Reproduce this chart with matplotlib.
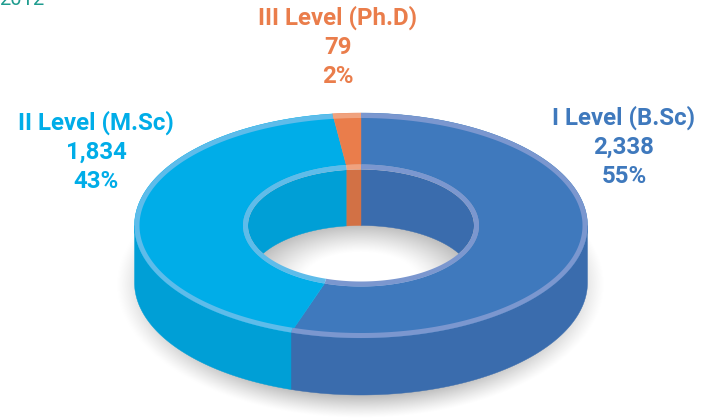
import numpy as np
import matplotlib
matplotlib.use("Agg")
import matplotlib.pyplot as plt
from matplotlib.patches import Polygon, Ellipse

levels = ['I Level (B.Sc)', 'II Level (M.Sc)', 'III Level (Ph.D)']
counts = [2338, 1834, 79]
shares = [55, 43, 2]

top_colors = ['#3f79bd', '#00ade8', '#ea7d4b']
side_colors = ['#3a6cad', '#009fd6', '#d27145']
rim_colors = ['#7b97cf', '#5ebcea', '#f0a27e']
text_colors = ['#3f79bd', '#00ade8', '#ea7d4b']
label_pos = [(624, 147), (96, 152), (338, 47)]

plt.rcParams['font.family'] = ['Roboto', 'DejaVu Sans']

fig = plt.figure(figsize=(7.02, 4.19), dpi=100)
ax = fig.add_axes([0, 0, 1, 1])
ax.set_xlim(0, 702)
ax.set_ylim(419, 0)
ax.axis('off')

cx, cy = 361, 225.5
a_out, b_out = 226.5, 112.5
a_hole, b_hole = 118, 61
rim = 5
depth = 57


def arc(a, b, t0, t1, dy=0):
    # clockwise from 12 o'clock, y goes down on this axis
    t = np.radians(np.linspace(t0, t1, 200))
    return np.column_stack([cx + a * np.sin(t), cy + dy - b * np.cos(t)])


def ring(a0, b0, a1, b1, t0, t1):
    return np.vstack([arc(a0, b0, t0, t1), arc(a1, b1, t1, t0)])


# soft shadow below the disk, also seen through the hole
xx, yy = np.meshgrid(np.arange(702) + 0.5, np.arange(419) + 0.5)
r_out = np.hypot((xx - cx) / 216, (yy - 285) / 118)
r_in = np.hypot((xx - cx) / 113, (yy - 281) / 56)
s_out = np.clip((1.13 - r_out) / 0.19, 0, 1)
s_in = np.clip((r_in - 0.5) / 0.5, 0, 1)
shade = np.minimum(s_out, s_in) ** 1.2
gray = 1 - 0.26 * shade
ax.imshow(gray, cmap='gray', vmin=0, vmax=1, extent=(0, 702, 419, 0),
          aspect='auto', zorder=1, interpolation='bilinear')

angles = np.concatenate([[0], np.cumsum(shares) * 3.6])

hole = Ellipse((cx, cy), 2 * (a_hole - rim), 2 * (b_hole - rim), transform=ax.transData)

for i in range(len(shares)):
    t0, t1 = angles[i], angles[i + 1]

    # outer wall, only the front half shows
    lo, hi = max(t0, 90), min(t1, 270)
    if lo < hi:
        wall = np.vstack([arc(a_out, b_out, lo, hi), arc(a_out, b_out, hi, lo, depth)])
        ax.add_patch(Polygon(wall, fc=side_colors[i], ec=side_colors[i], lw=0.3, zorder=2))

    # inner wall, back half of the hole
    for lo, hi in [(t0, min(t1, 90)), (max(t0, 270), t1)]:
        if lo < hi:
            wall = np.vstack([arc(a_hole - rim, b_hole - rim, lo, hi),
                              arc(a_hole - rim, b_hole - rim, hi, lo, b_hole - rim)])
            p = Polygon(wall, fc=side_colors[i], ec=side_colors[i], lw=0.3, zorder=2)
            ax.add_patch(p)
            p.set_clip_path(hole)

    # top face and the two lighter rims
    ax.add_patch(Polygon(ring(a_out, b_out, a_hole, b_hole, t0, t1),
                         fc=top_colors[i], ec=top_colors[i], lw=0.3, zorder=3))
    ax.add_patch(Polygon(ring(a_out, b_out, a_out - rim, b_out - rim, t0, t1),
                         fc=rim_colors[i], ec='none', zorder=4))
    ax.add_patch(Polygon(ring(a_hole, b_hole, a_hole - rim, b_hole - rim, t0, t1),
                         fc=rim_colors[i], ec='none', zorder=4))

for i in range(len(levels)):
    ax.text(label_pos[i][0], label_pos[i][1],
            f"{levels[i]}\n{counts[i]:,}\n{shares[i]}%",
            color=text_colors[i], fontsize=17.3, fontweight='bold',
            ha='center', va='center', linespacing=1.32, zorder=5)

# title cut off by the crop
ax.text(44, 5, '2012', color='#1f9c8f', fontsize=14.5, fontweight='normal',
        ha='right', va='baseline', zorder=5)

fig.savefig('out.png', dpi=100)
